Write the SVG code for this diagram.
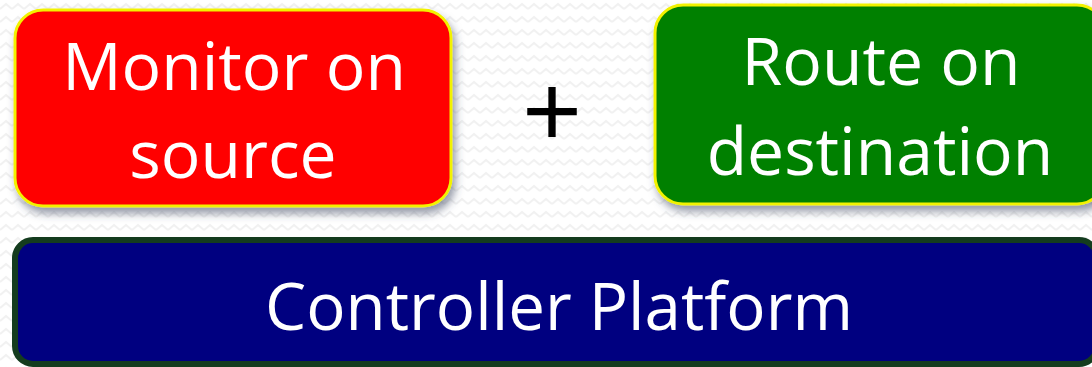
<svg xmlns="http://www.w3.org/2000/svg" width="1092" height="367" viewBox="0 0 1092 367">
  <style>
    .label { font-family: "Open Sans", "Noto Sans", "Liberation Sans", sans-serif; fill: #ffffff; text-anchor: middle; }
    .box-top { stroke: #f2f200; stroke-width: 3; }
    .plus { font-family: "Liberation Sans", "DejaVu Sans", sans-serif; fill: #000000; text-anchor: middle; }
  </style>
  <defs>
    <!-- faint zigzag paper texture -->
    <pattern id="zigzag" x="0" y="0" width="12" height="13" patternUnits="userSpaceOnUse">
      <rect width="12" height="13" fill="#ffffff"/>
      <polyline points="0,9 6,4 12,9" fill="none" stroke="#f1f1f1" stroke-width="2"/>
    </pattern>
    <filter id="shadow" x="-10%" y="-10%" width="125%" height="135%">
      <feGaussianBlur in="SourceAlpha" stdDeviation="4"/>
      <feOffset dx="3" dy="6" result="blur"/>
      <feFlood flood-color="#3c4660" flood-opacity="0.55"/>
      <feComposite in2="blur" operator="in"/>
      <feMerge>
        <feMergeNode/>
        <feMergeNode in="SourceGraphic"/>
      </feMerge>
    </filter>
  </defs>

  <rect width="1092" height="367" fill="url(#zigzag)"/>

  <g id="monitor-on-source" filter="url(#shadow)">
    <rect class="box-top" x="15" y="10" width="436" height="196" rx="28" fill="#ff0000"/>
    <text class="label" x="234" y="90" font-size="66">Monitor on</text>
    <text class="label" x="233" y="178" font-size="66">source</text>
  </g>

  <g id="plus">
    <text class="plus" x="552" y="146" font-size="102">+</text>
  </g>

  <g id="route-on-destination" filter="url(#shadow)">
    <rect class="box-top" x="655" y="5" width="450" height="199" rx="28" fill="#068006"/>
    <text class="label" x="881" y="85" font-size="66">Route on</text>
    <text class="label" x="880" y="175" font-size="66">destination</text>
  </g>

  <g id="controller-platform">
    <rect x="15" y="240" width="1082" height="124" rx="18" fill="#000080" stroke="#143c1e" stroke-width="6"/>
    <text class="label" x="559" y="330" font-size="66" textLength="588" lengthAdjust="spacingAndGlyphs">Controller Platform</text>
  </g>

  <g id="connectors"/>
</svg>
